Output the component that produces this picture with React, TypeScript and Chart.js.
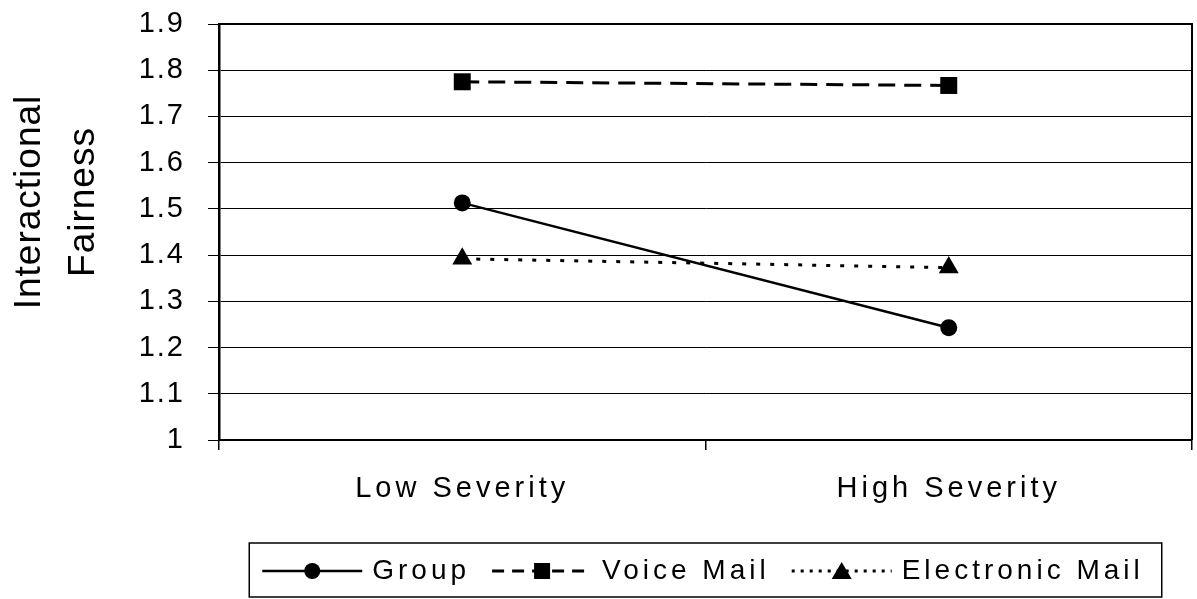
import React, { useEffect, useRef } from "react";
import { Chart, registerables } from "chart.js";

Chart.register(...registerables);

const categories = ["Low Severity", "High Severity"];
const groupValues = [1.513, 1.243];
const voiceMailValues = [1.775, 1.767];
const emailValues = [1.392, 1.373];
const seriesNames = ["Group", "Voice Mail", "Electronic Mail"];
const yTitle = ["Interactional", "Fairness"];
const yMin = 1;
const yMax = 1.9;
const yStep = 0.1;

const FONT = "'Liberation Sans', Arial, sans-serif";

function withSpacing(scale: any, method: string, spacing: string, shiftY = 0) {
  const orig = Object.getPrototypeOf(scale)[method];
  scale[method] = function (...args: any[]) {
    const ctx = this.ctx;
    ctx.save();
    (ctx as any).letterSpacing = spacing;
    if (shiftY) ctx.translate(0, shiftY);
    orig.apply(this, args);
    ctx.restore();
  };
}

const spacingPlugin = {
  id: "spacing",
  afterUpdate(chart: any) {
    withSpacing(chart.scales.x, "drawLabels", "4px");
    withSpacing(chart.scales.y, "drawLabels", "2px");
    withSpacing(chart.scales.y, "drawTitle", "1px", -30);
  },
};

const framePlugin = {
  id: "frame",
  afterDatasetsDraw(chart: any) {
    const { ctx, chartArea } = chart;
    ctx.save();
    ctx.strokeStyle = "#000";
    ctx.lineWidth = 2;
    ctx.beginPath();
    ctx.moveTo(chartArea.left, chartArea.top);
    ctx.lineTo(chartArea.right, chartArea.top);
    ctx.lineTo(chartArea.right, chartArea.bottom);
    ctx.stroke();
    ctx.restore();
  },
};

const legendPlugin = {
  id: "customLegend",
  afterDraw(chart: any) {
    const { ctx, chartArea } = chart;
    const datasets = chart.data.datasets;
    ctx.save();
    ctx.font = `28px ${FONT}`;
    (ctx as any).letterSpacing = "4px";
    const sampleW = 100;
    const gapText = 10;
    const gapItem = 22;
    const padL = 13;
    const padR = 18;
    const widths = datasets.map((d: any) => ctx.measureText(d.label).width);
    let total = padL + padR;
    widths.forEach((w: number, i: number) => {
      total += sampleW + gapText + w + (i < widths.length - 1 ? gapItem : 0);
    });
    const cx = (chartArea.left + chartArea.right) / 2;
    const boxBottom = chart.height - 2;
    const boxTop = boxBottom - 54;
    const left = cx - total / 2;
    ctx.strokeStyle = "#000";
    ctx.lineWidth = 1.5;
    ctx.strokeRect(left, boxTop, total, boxBottom - boxTop);
    const cy = (boxTop + boxBottom) / 2 + 1;
    let x = left + padL;
    datasets.forEach((d: any, i: number) => {
      ctx.save();
      ctx.strokeStyle = "#000";
      ctx.lineWidth = d.borderWidth;
      ctx.setLineDash(d.legendDash || []);
      ctx.beginPath();
      ctx.moveTo(x, cy);
      ctx.lineTo(x + sampleW, cy);
      ctx.stroke();
      ctx.restore();
      const mx = x + sampleW / 2;
      ctx.fillStyle = "#000";
      ctx.beginPath();
      if (d.pointStyle === "circle") {
        ctx.arc(mx, cy, 8, 0, Math.PI * 2);
      } else if (d.pointStyle === "rect") {
        ctx.rect(mx - 8, cy - 8, 16, 16);
      } else {
        ctx.moveTo(mx, cy - 9);
        ctx.lineTo(mx + 10, cy + 8);
        ctx.lineTo(mx - 10, cy + 8);
        ctx.closePath();
      }
      ctx.fill();
      x += sampleW + gapText;
      ctx.fillStyle = "#000";
      ctx.textAlign = "left";
      ctx.textBaseline = "middle";
      ctx.fillText(d.label, x, cy);
      x += widths[i] + gapItem;
    });
    ctx.restore();
  },
};

const whiteBg = {
  id: "whiteBg",
  beforeDraw(chart: any) {
    const { ctx } = chart;
    ctx.save();
    ctx.fillStyle = "#fff";
    ctx.fillRect(0, 0, chart.width, chart.height);
    ctx.restore();
  },
};

export default function App() {
  const ref = useRef<HTMLCanvasElement>(null);
  useEffect(() => {
    if (!ref.current) return;
    const chart = new Chart(ref.current, {
      type: "line",
      data: {
        labels: categories,
        datasets: [
          {
            label: seriesNames[0],
            data: groupValues,
            borderColor: "#000",
            backgroundColor: "#000",
            borderWidth: 2.5,
            pointStyle: "circle",
            pointRadius: 8.5,
            pointBorderWidth: 0,
            pointBackgroundColor: "#000",
            legendDash: [],
          } as any,
          {
            label: seriesNames[1],
            data: voiceMailValues,
            borderColor: "#000",
            backgroundColor: "#000",
            borderWidth: 3,
            borderDash: [17, 9],
            pointStyle: "rect",
            pointRadius: 12,
            pointBorderWidth: 0,
            pointBackgroundColor: "#000",
            legendDash: [12, 8],
          } as any,
          {
            label: seriesNames[2],
            data: emailValues,
            borderColor: "#000",
            backgroundColor: "#000",
            borderWidth: 3,
            borderDash: [4, 10],
            pointStyle: "triangle",
            pointRadius: 11.5,
            pointBorderWidth: 0,
            pointBackgroundColor: "#000",
            legendDash: [3, 6],
          } as any,
        ],
      },
      options: {
        animation: false,
        responsive: true,
        maintainAspectRatio: false,
        layout: { autoPadding: false, padding: { left: 0, top: 24, right: 5, bottom: 89 } },
        plugins: { legend: { display: false }, tooltip: { enabled: false } },
        scales: {
          x: {
            offset: true,
            grid: {
              offset: true,
              drawOnChartArea: false,
              drawTicks: true,
              tickLength: 10,
              color: "#000",
              lineWidth: 1.5,
            },
            border: { color: "#000", width: 2 },
            ticks: {
              color: "#000",
              font: { family: FONT, size: 29 },
              padding: 22,
              maxRotation: 0,
            },
            afterFit: (s: any) => {
              s.height = 70;
              s.paddingLeft = 0;
              s.paddingRight = 0;
              s.paddingTop = 0;
              s.paddingBottom = 0;
            },
          },
          y: {
            min: yMin,
            max: yMax,
            grid: { color: "#000", lineWidth: 1, tickLength: 11 },
            border: { color: "#000", width: 2.5 },
            ticks: {
              stepSize: yStep,
              color: "#000",
              font: { family: FONT, size: 29 },
              padding: 23,
              callback: (v: any) => String(Math.round(Number(v) * 10) / 10),
            },
            title: {
              display: true,
              text: yTitle,
              color: "#000",
              font: { family: FONT, size: 37, lineHeight: 1.45 },
              padding: { top: 3, bottom: 0 },
            },
            afterFit: (s: any) => {
              s.width = 219;
              s.paddingLeft = 0;
              s.paddingRight = 0;
              s.paddingTop = 0;
              s.paddingBottom = 0;
            },
          },
        },
      },
      plugins: [whiteBg, spacingPlugin, framePlugin, legendPlugin],
    });
    return () => chart.destroy();
  }, []);
  return (
    <div style={{ position: "fixed", left: 0, top: 0, width: 1197, height: 599, background: "#fff" }}>
      <canvas ref={ref} />
    </div>
  );
}
